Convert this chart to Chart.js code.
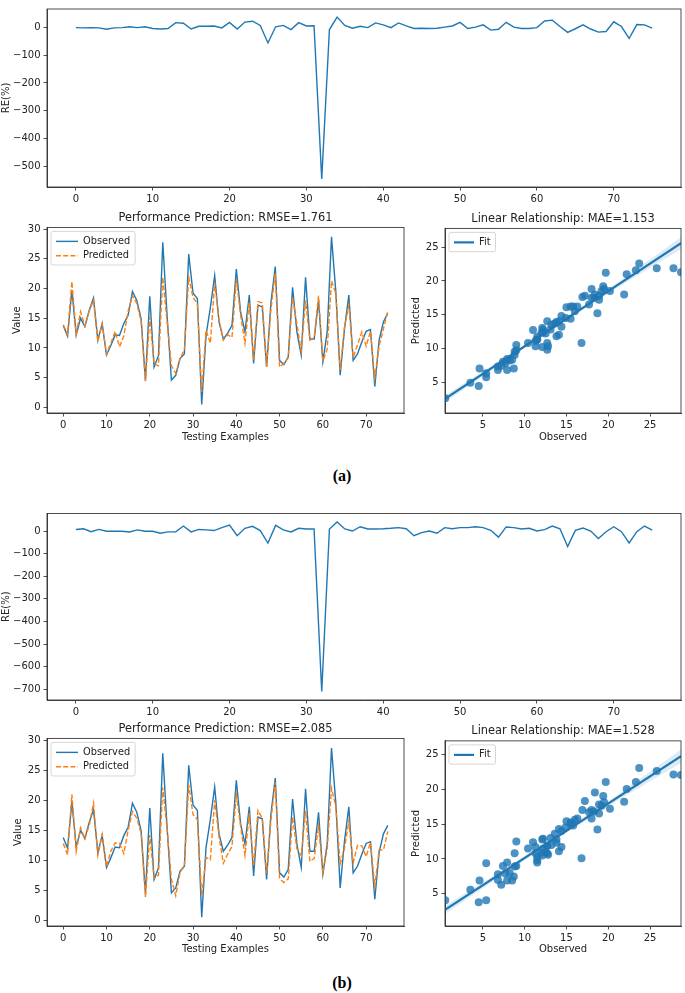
<!DOCTYPE html>
<html>
<head>
<meta charset="utf-8">
<script src="https://cdn.jsdelivr.net/npm/chart.js@4/dist/chart.umd.min.js"></script>
<style>
  body { margin: 0; background: #fff; width: 685px; height: 993px; position: relative; overflow: hidden; }
  canvas { position: absolute; }
  .cap { position: absolute; width: 40px; text-align: center; font: bold 16px "Liberation Serif", "Times New Roman", serif; line-height: 18px; color: #000; }
</style>
</head>
<body>
<canvas id="reA" width="685" height="215" style="left:0;top:0"></canvas>
<canvas id="perfA" width="410" height="240" style="left:0;top:205px"></canvas>
<canvas id="fitA" width="285" height="239" style="left:400px;top:206px"></canvas>
<div class="cap" style="left:322px;top:467px">(a)</div>
<canvas id="reB" width="685" height="228" style="left:0;top:500px"></canvas>
<canvas id="perfB" width="410" height="242" style="left:0;top:716px"></canvas>
<canvas id="fitB" width="285" height="240" style="left:400px;top:718px"></canvas>
<div class="cap" style="left:322px;top:974px">(b)</div>

<script>
// observed test values (same in both runs), index 0..75
const observed = [13.8, 12.0, 19.7, 12.2, 15.0, 13.6, 16.3, 18.4, 11.3, 14.1,
  8.8, 10.4, 12.2, 12.1, 14.1, 15.5, 19.5, 18.0, 14.9, 4.5,
  18.7, 6.8, 8.7, 27.8, 15.5, 4.6, 5.4, 8.2, 9.0, 25.8,
  19.2, 18.3, 0.5, 12.1, 16.8, 22.2, 14.4, 11.5, 12.5, 13.8,
  23.3, 16.0, 12.7, 18.9, 7.4, 17.2, 16.9, 6.8, 17.7, 23.7,
  7.9, 7.2, 8.5, 20.2, 12.7, 8.8, 21.9, 11.5, 11.5, 18.0,
  7.7, 12.7, 28.7, 19.4, 5.4, 13.2, 18.9, 7.9, 9.0, 11.0,
  12.8, 13.1, 3.5, 11.3, 14.4, 15.8];

// predictions, run (a)
const predictedA = [13.9, 12.3, 21.2, 12.4, 16.1, 13.7, 16.2, 18.0, 11.1, 14.0,
  9.0, 10.8, 12.8, 10.2, 12.0, 16.2, 18.8, 17.5, 14.5, 4.4,
  15.2, 7.3, 7.0, 21.9, 14.4, 7.0, 5.7, 8.2, 9.7, 21.9,
  18.5, 17.5, 2.6, 13.0, 10.8, 21.0, 14.8, 11.3, 12.2, 11.8,
  21.6, 15.5, 10.8, 17.8, 8.0, 17.8, 17.6, 6.8, 16.5, 22.6,
  6.8, 7.4, 8.3, 18.5, 14.0, 9.5, 18.0, 11.3, 11.7, 18.8,
  7.8, 9.8, 21.3, 19.2, 6.3, 13.5, 17.2, 8.4, 10.5, 12.7,
  10.3, 12.8, 4.9, 10.3, 13.2, 16.2];

// predictions, run (b)
const predictedB = [12.8, 10.9, 21.0, 11.5, 15.4, 13.6, 15.8, 19.5, 10.8, 14.3,
  8.9, 11.5, 12.9, 12.8, 11.1, 15.0, 18.1, 17.0, 14.5, 3.8,
  14.2, 7.0, 7.5, 22.1, 15.2, 6.9, 4.1, 8.0, 9.0, 22.6,
  17.6, 16.8, 4.1, 10.5, 10.1, 20.0, 14.0, 9.5, 11.0, 12.3,
  21.0, 15.6, 10.8, 17.8, 9.0, 18.3, 17.0, 7.8, 16.7, 23.0,
  6.9, 6.3, 6.9, 17.2, 11.9, 10.8, 18.2, 9.8, 10.3, 15.8,
  7.9, 11.9, 22.0, 19.0, 9.4, 12.0, 16.5, 9.5, 12.5, 12.4,
  10.6, 13.0, 5.6, 11.7, 11.7, 14.8];

// relative error in %, run (a) and run (b)
const relErrA = [-1, -2, -1, -2, -7, -2, -1, 2, -1, 2,
  -4, -6, -4, 17, 15, -6, 4, 4, 5, -2,
  18, -6, 19, 22, 7, -56, 2, 7, -8, 17,
  5, 6, -545, -8, 37, 7, -3, 4, -1, 16,
  9, -1, 16, 5, -4, -3, -4, -3, 1, 5,
  18, -4, 1, 9, -10, -7, 18, 1, -4, -4,
  -1, 23, 26, 3, -18, -5, 9, -6, -17, -15,
  20, 3, -40, 10, 9, -3];
const relErrB = [7, 10, -3, 7, -1, -1, -1, -4, 5, -1,
  -1, -10, -4, -4, 22, -4, 7, 5, 2, 15,
  26, -21, 12, 21, 2, -53, 25, 5, -4, 12,
  9, 9, -710, 9, 40, 9, 0, 19, 9, 9,
  10, 12, 15, 10, -21, -7, 0, -10, 15, 10,
  15, 15, 19, 15, 3, -27, 18, 15, 9, 12,
  0, 6, 22, 10, -69, 3, 13, 0, -33, -3,
  19, -3, -53, -3, 22, 4];

// regression fit ends and confidence band
const fitX = [0.47, 28.7];
const fitYA = [2.5, 25.6];
const fitYB = [2.7, 24.7];
const bandX = [0.47, 7, 14, 21, 28.7];
const bandLowA = [2.0, 7.55, 13.38, 18.96, 24.7];
const bandHighA = [3.0, 8.15, 13.78, 19.66, 26.5];
const bandLowB = [2.1, 7.44, 12.99, 18.29, 23.75];
const bandHighB = [3.3, 8.14, 13.49, 19.09, 25.65];

// tick labels
const indexTicks = [0, 10, 20, 30, 40, 50, 60, 70];
const reTicksA = [0, -100, -200, -300, -400, -500];
const reTicksB = [0, -100, -200, -300, -400, -500, -600, -700];
const valueTicks = [0, 5, 10, 15, 20, 25, 30];
const fitTicks = [5, 10, 15, 20, 25];

const blue = '#1f77b4';
const orange = '#ff7f0e';
const ink = '#222';

Chart.defaults.font.family = '"DejaVu Sans", sans-serif';
Chart.defaults.color = ink;

// matplotlib draws all four spines
const spines = {
  id: 'spines',
  afterDraw(chart) {
    const { ctx, chartArea: a } = chart;
    ctx.save();
    ctx.strokeStyle = ink;
    ctx.lineWidth = 0.8;
    ctx.strokeRect(a.left, a.top, a.right - a.left, a.bottom - a.top);
    ctx.restore();
  }
};

// framed legend in the upper left corner of the axes
const boxLegend = {
  id: 'boxLegend',
  afterDraw(chart, args, opts) {
    const items = chart.data.datasets.filter(d => d.inLegend);
    if (!items.length) return;
    const len = (opts && opts.lineLen) || 22;
    const { ctx, chartArea: a } = chart;
    ctx.save();
    ctx.font = '9.8px "DejaVu Sans", sans-serif';
    const textW = Math.max(...items.map(d => ctx.measureText(d.label).width));
    const x = a.left + 4, y = a.top + 4;
    const w = 5 + len + 5 + textW + 5;
    const h = items.length * 14.3 + 5;
    ctx.fillStyle = 'rgba(255,255,255,0.8)';
    ctx.strokeStyle = '#ccc';
    ctx.lineWidth = 0.8;
    ctx.beginPath();
    ctx.roundRect(x, y, w, h, 2);
    ctx.fill();
    ctx.stroke();
    items.forEach((d, k) => {
      const cy = y + 10 + k * 14.3;
      ctx.strokeStyle = d.borderColor;
      ctx.lineWidth = d.borderWidth;
      ctx.setLineDash(d.borderDash || []);
      ctx.beginPath();
      ctx.moveTo(x + 5, cy);
      ctx.lineTo(x + 5 + len, cy);
      ctx.stroke();
      ctx.setLineDash([]);
      ctx.fillStyle = ink;
      ctx.textBaseline = 'middle';
      ctx.fillText(d.label, x + 10 + len, cy);
    });
    ctx.restore();
  }
};

function axis(pos, min, max, ticks, size, title, titlePad) {
  return {
    type: 'linear',
    position: pos,
    min: min,
    max: max,
    afterBuildTicks: s => { s.ticks = ticks.map(v => ({ value: v })); },
    afterFit: s => { if (pos === 'left') s.width = size; else s.height = size; },
    grid: { drawOnChartArea: false, tickLength: 3.5, tickWidth: 0.8, tickColor: ink },
    border: { color: ink, width: 0.8 },
    ticks: {
      color: ink, padding: 3, font: { size: 10 }, autoSkip: false, maxRotation: 0,
      callback: v => String(v).replace('-', '\u2212')
    },
    title: {
      display: !!title, text: title || '', color: ink, font: { size: 10 },
      padding: pos === 'left' ? { top: titlePad, bottom: 0 } : { top: 0, bottom: titlePad }
    }
  };
}

function options(padTop, padRight, xs, ys, title, lineLen) {
  return {
    responsive: false,
    animation: false,
    layout: { padding: { top: padTop, right: padRight, left: 0, bottom: 0 } },
    scales: { x: xs, y: ys },
    plugins: {
      legend: { display: false },
      tooltip: { enabled: false },
      boxLegend: { lineLen: lineLen },
      title: title ? {
        display: true, text: title, fullSize: false, color: ink,
        font: { size: 11.4, weight: 'normal' }, padding: { top: 6.2, bottom: 2.5 }
      } : { display: false }
    }
  };
}

const points = (xs, ys) => xs.map((v, i) => ({ x: v, y: ys[i] }));
const series = ys => ys.map((v, i) => ({ x: i, y: v }));

function reChart(id, values, yMin, yMax, yTicks, padTop) {
  new Chart(document.getElementById(id), {
    type: 'line',
    data: {
      datasets: [{
        data: series(values), borderColor: blue, borderWidth: 1.4, pointRadius: 0, fill: false
      }]
    },
    options: options(padTop, 4,
      axis('bottom', -3.75, 78.75, indexTicks, 28),
      axis('left', yMin, yMax, yTicks, 47, 'RE(%)', 0.3)),
    plugins: [spines]
  });
}

function perfChart(id, predicted, title, yPad, xPad) {
  new Chart(document.getElementById(id), {
    type: 'line',
    data: {
      datasets: [{
        label: 'Observed', data: series(observed), borderColor: blue, borderWidth: 1.4,
        pointRadius: 0, fill: false, order: 2, inLegend: true
      }, {
        label: 'Predicted', data: series(predicted), borderColor: orange, borderWidth: 1.4,
        borderDash: [5, 2.2], pointRadius: 0, fill: false, order: 1, inLegend: true
      }]
    },
    options: options(0, 6,
      axis('bottom', -3.75, 78.75, indexTicks, 32, 'Testing Examples', xPad),
      axis('left', -0.95, 30.3, valueTicks, 47, 'Value', yPad),
      title, 22),
    plugins: [spines, boxLegend]
  });
}

function fitChart(id, predicted, fitY, low, high, yMax, title, padTop, xPad) {
  new Chart(document.getElementById(id), {
    type: 'scatter',
    data: {
      datasets: [{
        type: 'scatter', data: points(observed, predicted),
        backgroundColor: 'rgba(31,119,180,0.8)', borderWidth: 0, pointRadius: 4, order: 3
      }, {
        type: 'line', data: points(bandX, low), borderColor: 'rgba(0,0,0,0)',
        pointRadius: 0, fill: false, order: 2
      }, {
        type: 'line', data: points(bandX, high), borderColor: 'rgba(0,0,0,0)',
        backgroundColor: 'rgba(31,119,180,0.15)', pointRadius: 0, fill: '-1', order: 2
      }, {
        type: 'line', label: 'Fit', data: points(fitX, fitY), borderColor: blue,
        borderWidth: 2.2, pointRadius: 0, fill: false, order: 1, inLegend: true
      }]
    },
    options: options(padTop, 2,
      axis('bottom', 0.47, 28.7, fitTicks, 32, 'Observed', xPad),
      axis('left', 0.4, yMax, fitTicks, 45, 'Predicted', 10.5),
      title, 20),
    plugins: [spines, boxLegend]
  });
}

reChart('reA', relErrA, -574, 66, reTicksA, 2);
perfChart('perfA', predictedA, 'Performance Prediction: RMSE=1.761', 11.3, 1.4);
fitChart('fitA', predictedA, fitYA, bandLowA, bandHighA, 27.8, 'Linear Relationship: MAE=1.153', 0, 1.4);

reChart('reB', relErrB, -747.5, 77.5, reTicksB, 13.5);
perfChart('perfB', predictedB, 'Performance Prediction: RMSE=2.085', 12.3, 2.1);
fitChart('fitB', predictedB, fitYB, bandLowB, bandHighB, 26.9, 'Linear Relationship: MAE=1.528', 0.5, 2.1);
</script>
</body>
</html>
